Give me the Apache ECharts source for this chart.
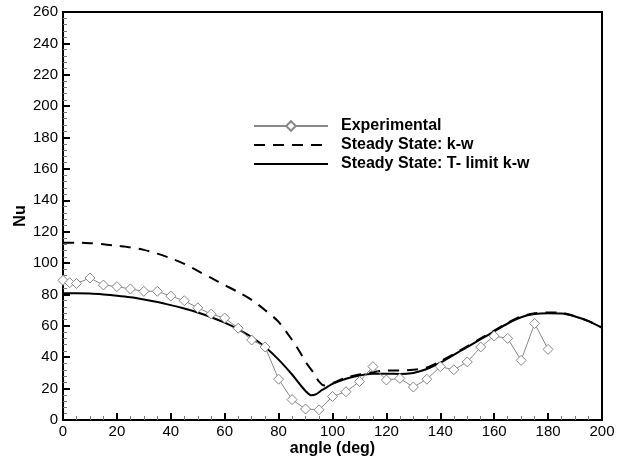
<!DOCTYPE html>
<html>
<head>
<meta charset="utf-8">
<script src="https://cdn.jsdelivr.net/npm/echarts@6/dist/echarts.min.js"></script>
<style>
html,body{margin:0;padding:0;background:#fff;}
#chart{width:634px;height:459px;}
</style>
</head>
<body>
<div id="chart"></div>
<script>
// ---- data ----
var expAngle = [0, 2.5, 5, 10, 15, 20, 25, 30, 35, 40, 45, 50, 55, 60, 65, 70, 75, 80, 85, 90, 95, 100, 105, 110, 115, 120, 125, 130, 135, 140, 145, 150, 155, 160, 165, 170, 175, 180];
var expNu = [89, 87.5, 87, 90.5, 86, 85, 83.5, 82, 82, 79, 76, 71.5, 67.5, 65, 58.5, 51, 46.5, 26, 13, 7, 6.5, 15, 18, 24.5, 34, 25.5, 26.5, 21, 26, 34, 32, 37, 46.5, 53.5, 52, 38, 61.5, 45];

var kwAngle = [0, 5, 10, 15, 20, 25, 30, 35, 40, 45, 50, 55, 60, 65, 70, 75, 80, 85, 88, 90, 93, 95, 97, 100, 105, 110, 115, 120, 125, 130, 135, 140, 145, 150, 155, 160, 165, 170, 175, 180, 185, 190, 195, 200];
var kwNu = [113, 113, 112.7, 112, 111, 110, 108.4, 106, 103, 99.5, 95, 90.5, 86, 81.5, 76.5, 70, 62.5, 51, 43, 37, 30, 24.5, 22, 23.5, 27, 29, 30.5, 31.5, 31.5, 32, 33.5, 37.5, 42, 47, 52, 57, 62, 66, 68, 68.5, 68.3, 66.2, 63, 59];

var tlAngle = [0, 5, 10, 15, 20, 25, 30, 35, 40, 45, 50, 55, 60, 65, 70, 75, 80, 85, 88, 90, 92, 94, 96, 98, 100, 105, 110, 115, 120, 125, 130, 135, 140, 145, 150, 155, 160, 165, 170, 175, 180, 185, 190, 195, 200];
var tlNu = [80.7, 80.8, 80.6, 80, 79.2, 78.2, 76.8, 75.2, 73.2, 71, 68.5, 65.5, 62, 57.8, 52.9, 46.5, 38.5, 29, 22.5, 18.5, 15.8, 16.5, 19, 21, 23, 26.3, 28.4, 29.5, 29.5, 29.3, 30, 32.5, 36.5, 41.5, 46.5, 51.5, 56.5, 61.5, 65.5, 67.5, 68, 67.8, 66, 63, 58.7];

var seriesNames = ['Experimental', 'Steady State: k-w', 'Steady State: T- limit k-w'];

function pairs(xs, ys) { return xs.map(function (x, i) { return [x, ys[i]]; }); }

var FONT = 'Liberation Sans, Arial, sans-serif';

var chart = echarts.init(document.getElementById('chart'));
chart.setOption({
  animation: false,
  backgroundColor: '#fff',
  grid: { left: 63, top: 12, right: 32, bottom: 39, outerBoundsMode: 'none', containLabel: false, show: true, borderColor: '#000', borderWidth: 2, backgroundColor: 'transparent' },
  legend: {
    orient: 'vertical',
    left: 253, top: 117, padding: 0,
    itemWidth: 74, itemHeight: 12, itemGap: 1,
    data: [
      { name: seriesNames[0] },
      { name: seriesNames[1], itemStyle: { opacity: 0 } },
      { name: seriesNames[2], itemStyle: { opacity: 0 } }
    ],
    textStyle: { fontFamily: FONT, fontSize: 16, lineHeight: 18, fontWeight: 'bold', color: '#000', padding: [0, 0, 0, 8] }
  },
  xAxis: {
    type: 'value', min: 0, max: 200, interval: 20,
    name: 'angle (deg)', nameLocation: 'middle', nameGap: 21, nameMoveOverlap: false,
    nameTextStyle: { fontFamily: FONT, fontSize: 16, fontWeight: 'bold', color: '#000' },
    axisLine: { show: true, lineStyle: { color: '#000', width: 2 } },
    axisTick: { show: true, inside: true, length: 7, lineStyle: { color: '#000', width: 2 } },
    minorTick: { show: true, splitNumber: 4, length: 4, lineStyle: { color: '#777', width: 1 } },
    axisLabel: { fontFamily: FONT, fontSize: 15, color: '#000', margin: 4 },
    splitLine: { show: false }
  },
  yAxis: {
    type: 'value', min: 0, max: 260, interval: 20,
    name: 'Nu', nameLocation: 'middle', nameGap: 34, nameRotate: 90, nameMoveOverlap: false,
    nameTextStyle: { fontFamily: FONT, fontSize: 16, fontWeight: 'bold', color: '#000' },
    axisLine: { show: true, lineStyle: { color: '#000', width: 2 } },
    axisTick: { show: true, inside: true, length: 7, lineStyle: { color: '#000', width: 2 } },
    minorTick: { show: true, splitNumber: 5, length: 4, lineStyle: { color: '#777', width: 1 } },
    axisLabel: { fontFamily: FONT, fontSize: 15, color: '#000', margin: 5 },
    splitLine: { show: false }
  },
  series: [
    {
      name: seriesNames[0], type: 'line', data: pairs(expAngle, expNu),
      symbol: 'diamond', symbolSize: 10, showSymbol: true,
      lineStyle: { color: '#888', width: 1 },
      itemStyle: { color: '#fff', borderColor: '#888', borderWidth: 1 },
      z: 3
    },
    {
      name: seriesNames[1], type: 'line', data: pairs(kwAngle, kwNu),
      showSymbol: false, symbol: 'none', smooth: 0.3,
      lineStyle: { color: '#000', width: 2, type: [11, 8] },
      itemStyle: { color: '#000' },
      z: 2
    },
    {
      name: seriesNames[2], type: 'line', data: pairs(tlAngle, tlNu),
      showSymbol: false, symbol: 'none', smooth: 0.3,
      lineStyle: { color: '#000', width: 2 },
      itemStyle: { color: '#000' },
      z: 2
    }
  ]
});
</script>
</body>
</html>
